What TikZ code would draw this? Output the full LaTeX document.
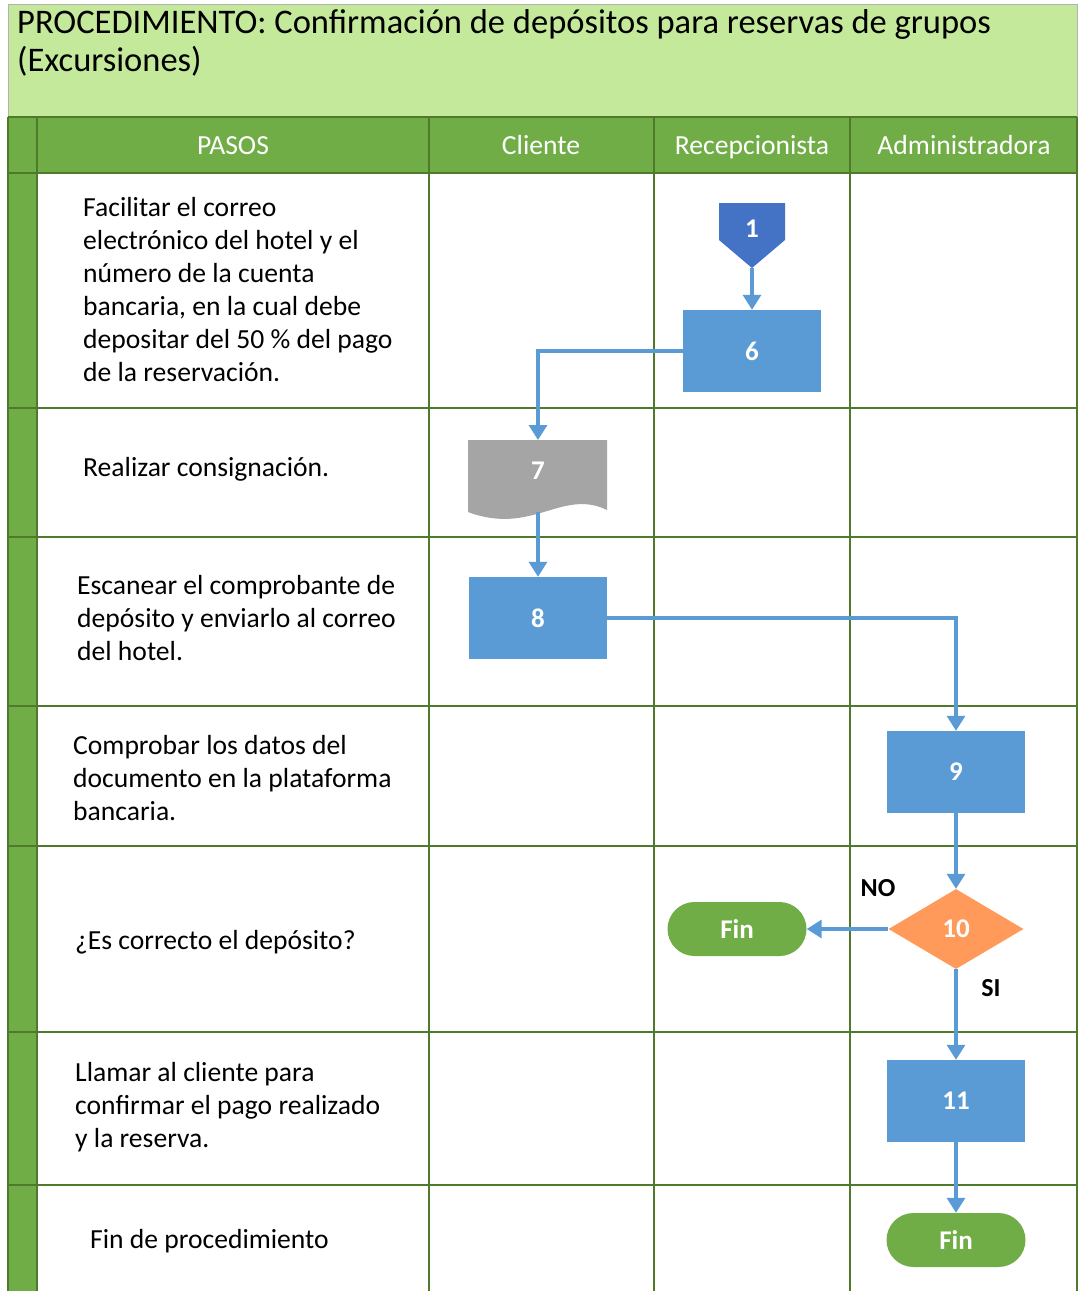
\documentclass[tikz,border=0pt]{standalone}
\usepackage{fontspec}
\setmainfont{Carlito}
\usetikzlibrary{arrows.meta,shapes.geometric,shapes.misc}
\definecolor{titlefill}{HTML}{C5E99B}
\definecolor{headgreen}{HTML}{70AD47}
\definecolor{gridline}{HTML}{4F7A2C}
\definecolor{procblue}{HTML}{5B9BD5}
\definecolor{startblue}{HTML}{4472C4}
\definecolor{docgray}{HTML}{A5A5A5}
\definecolor{decorange}{HTML}{FF9A5A}
\definecolor{flowline}{HTML}{5B9BD5}
\begin{document}
\begin{tikzpicture}[x=1pt,y=-1pt,
  gridpen/.style={draw=gridline,line width=1.4pt},
  steptext/.style={anchor=west,align=left,inner sep=0pt,font=\fontsize{27.6}{33}\selectfont},
  headtext/.style={anchor=base,text=white,font=\fontsize{27.6}{30}\selectfont},
  procbox/.style={rectangle,fill=procblue,minimum width=138pt,minimum height=82pt,inner sep=0pt,
    text=white,font=\fontsize{27}{30}\selectfont\bfseries},
  endbox/.style={rounded rectangle,fill=headgreen,minimum width=139pt,minimum height=54pt,inner sep=0pt,
    text=white,font=\fontsize{27}{30}\selectfont\bfseries},
  numtext/.style={text=white,font=\fontsize{27}{30}\selectfont\bfseries},
  flow/.style={draw=flowline,line width=3.2pt,-{Triangle[width=18pt,length=15pt]}},
  branchlabel/.style={font=\fontsize{26}{30}\selectfont\bfseries}
]
\useasboundingbox (0,0) rectangle (1079,1291);
\fill[white] (0,0) rectangle (1079,1291);

% title band
\filldraw[fill=titlefill,draw=black!30,line width=1pt] (8,4) rectangle (1077,117);
\node[anchor=north west,align=left,inner sep=0pt,font=\fontsize{34.5}{38}\selectfont] (title) at (17,9)
  {PROCEDIMIENTO: Confirmación de depósitos para reservas de grupos\\(Excursiones)};

% header row and left strip
\fill[headgreen] (8,117) rectangle (1077,173);
\fill[headgreen] (8,173) rectangle (37,1291);

% grid
\foreach \yy in {117,173,408,537,706,846,1032,1185}
  \draw[gridpen] (8,\yy) -- (1077,\yy);
\foreach \xx in {8,37,429,654,850,1077}
  \draw[gridpen] (\xx,117) -- (\xx,1291);

% column headings
\node[headtext] (hpasos) at (233,154) {PASOS};
\node[headtext] (hcli) at (541,154) {Cliente};
\node[headtext] (hrec) at (752,154) {Recepcionista};
\node[headtext] (hadm) at (964,154) {Administradora};

% step descriptions
\node[steptext] (s1) at (83,290) {Facilitar el correo\\electrónico del hotel y el\\número de la cuenta\\bancaria, en la cual debe\\depositar del 50 \% del pago\\de la reservación.};
\node[steptext] (s2) at (83,469) {Realizar consignación.};
\node[steptext] (s3) at (77,618) {Escanear el comprobante de\\depósito y enviarlo al correo\\del hotel.};
\node[steptext] (s4) at (73,778) {Comprobar los datos del\\documento en la plataforma\\bancaria.};
\node[steptext] (s5) at (75,942) {¿Es correcto el depósito?};
\node[steptext] (s6) at (75,1107) {Llamar al cliente para\\confirmar el pago realizado\\y la reserva.};
\node[steptext] (s7) at (90,1241) {Fin de procedimiento};

% off-page start connector
\fill[startblue] (719,203) -- (785,203) -- (785,240) -- (752,268) -- (719,240) -- cycle;
\node[numtext] (n1) at (752,229) {1};
\coordinate (n1tip) at (752,268);

% process boxes
\node[procbox] (n6) at (752,351) {6};
\node[procbox] (n8) at (538,618) {8};
\node[procbox] (n9) at (956,772) {9};
\node[procbox] (n11) at (956,1101) {11};

% document shape
\fill[docgray] (468,440) -- (607,440) -- (607,510)
  .. controls (562,488) and (532,536) .. (468,512) -- cycle;
\node[numtext] (n7) at (538,471) {7};
\coordinate (n7top) at (538,440);
\coordinate (n7bot) at (538,512);

% decision
\node[diamond,fill=decorange,minimum width=135pt,minimum height=80pt,inner sep=0pt,
  text=white,font=\fontsize{27}{30}\selectfont\bfseries] (n10) at (956,929) {10};

% terminators
\node[endbox] (fin1) at (737,929) {Fin};
\node[endbox] (fin2) at (956,1240) {Fin};

% connectors
\draw[flow] (n1tip) -- (n6.north);
\draw[flow] (n6.west) -| (n7top);
\draw[flow] (n7bot) -- (n8.north);
\draw[flow] (n8.east) -| (n9.north);
\draw[flow] (n9.south) -- (n10.north);
\draw[flow] (n10.west) -- (fin1.east);
\draw[flow] (n10.south) -- (n11.north);
\draw[flow] (n11.south) -- (fin2.north);

% branch labels
\node[branchlabel] (lno) at (878,888) {NO};
\node[branchlabel] (lsi) at (991,988) {SI};
\end{tikzpicture}
\end{document}
